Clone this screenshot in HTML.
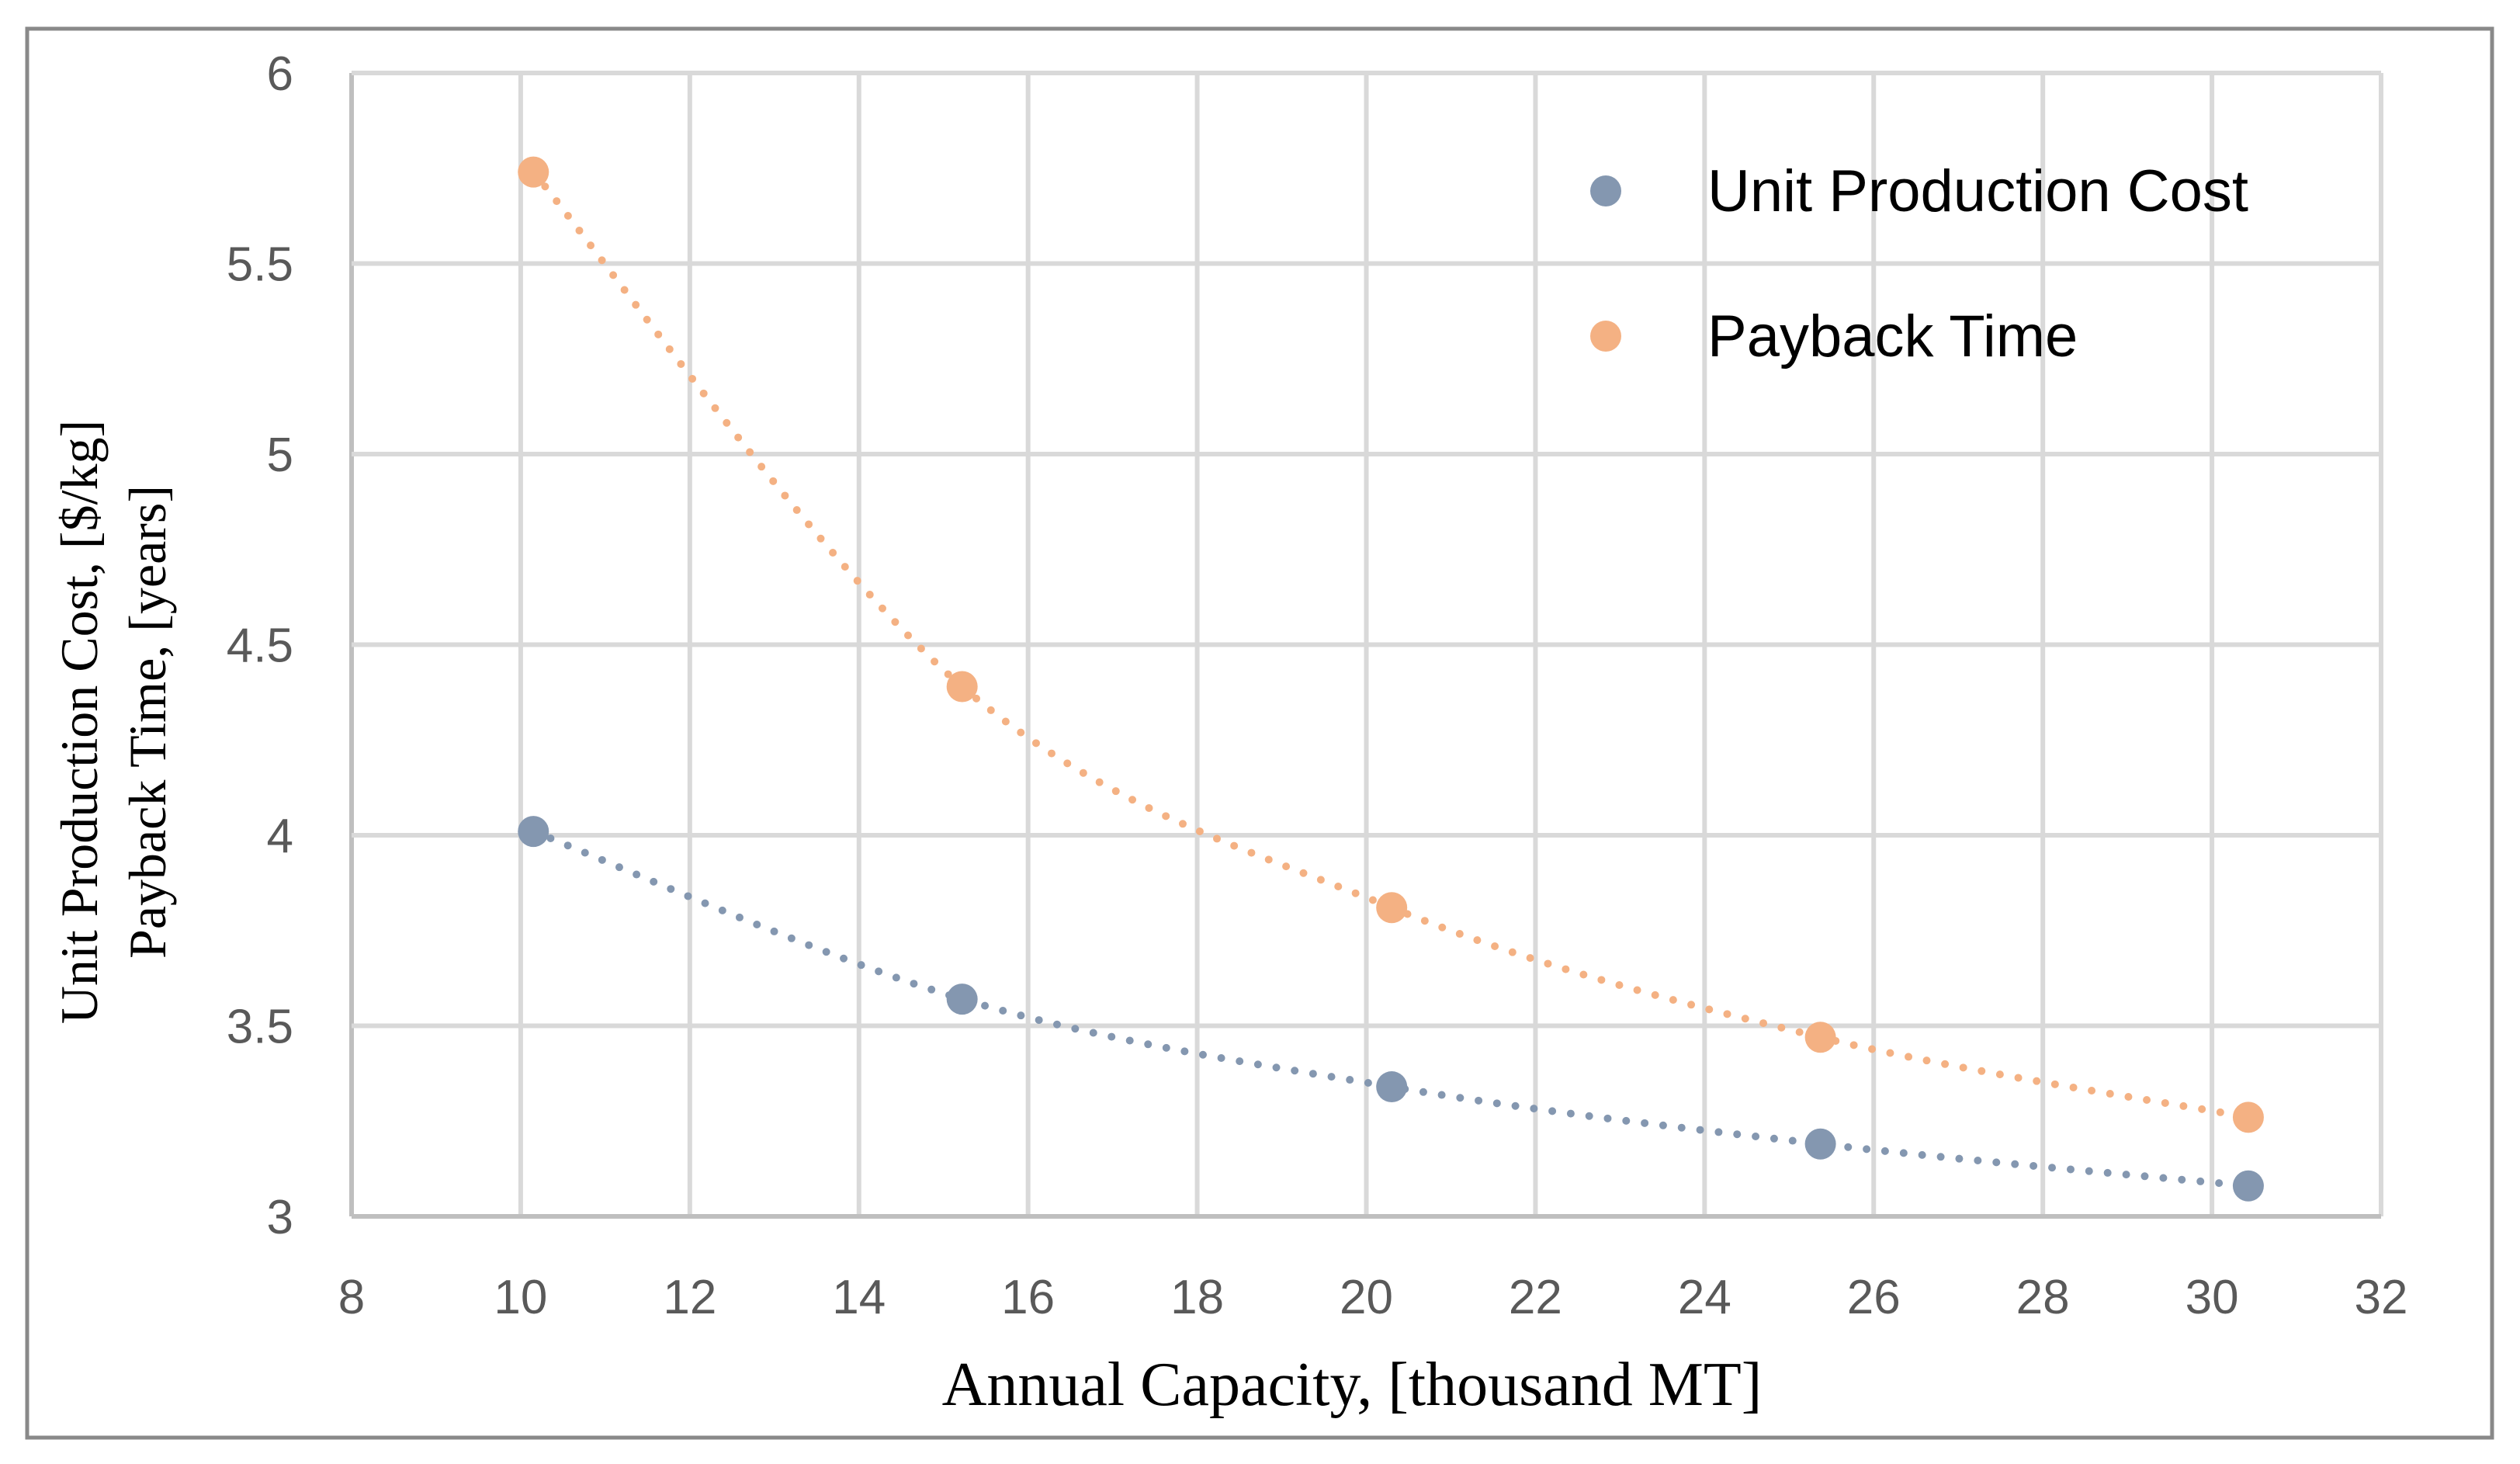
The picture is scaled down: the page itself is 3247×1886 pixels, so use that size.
<!DOCTYPE html>
<html><head><meta charset="utf-8"><style>
html,body{margin:0;padding:0;background:#fff}
svg{display:block}
</style></head><body>
<svg id="chart" width="3247" height="1886" xmlns="http://www.w3.org/2000/svg">
<rect x="35" y="37" width="3176" height="1815" fill="#fff" stroke="#898989" stroke-width="5"/>
<g id="grid"></g>
<g id="ticks"></g>
<g id="series"></g>
<text x="1742" y="1810" text-anchor="middle" font-family="Liberation Serif, serif" font-size="80" fill="#000">Annual Capacity, [thousand MT]</text>
<g transform="translate(150,930) rotate(-90)">
<text x="0" y="-25" text-anchor="middle" font-family="Liberation Serif, serif" font-size="68" fill="#000">Unit Production Cost, [$/kg]</text>
<text x="0" y="63" text-anchor="middle" font-family="Liberation Serif, serif" font-size="68" fill="#000">Payback Time, [years]</text>
</g>
<g>
<circle cx="2069" cy="246" r="20" fill="#8497b0"/>
<text x="2200" y="272" font-family="Liberation Sans, sans-serif" font-size="76" fill="#000">Unit Production Cost</text>
<circle cx="2069" cy="433" r="20" fill="#f4b183"/>
<text x="2200" y="459" font-family="Liberation Sans, sans-serif" font-size="76" fill="#000">Payback Time</text>
</g>
</svg>
<script>
const xTicks = [8,10,12,14,16,18,20,22,24,26,28,30,32];
const yTicks = [3,3.5,4,4.5,5,5.5,6];
const yTickLabels = ["3","3.5","4","4.5","5","5.5","6"];
const capacity = [10.15,15.22,20.3,25.37,30.43];
const unitCost = [4.01,3.57,3.34,3.19,3.08];
const payback = [5.74,4.39,3.81,3.47,3.26];

const L=453,R=3068,T=94,B=1567;
const X=v=>L+(v-8)/(32-8)*(R-L);
const Y=v=>B-(v-3)/(6-3)*(B-T);
const NS="http://www.w3.org/2000/svg";
function mk(tag,parent,attrs){const e=document.createElementNS(NS,tag);for(const k in attrs)e.setAttribute(k,attrs[k]);parent.appendChild(e);return e;}
const grid=document.getElementById('grid'),ticks=document.getElementById('ticks'),series=document.getElementById('series');
xTicks.forEach((t,i)=>{
  const ln=mk('line',grid,{x1:X(t),x2:X(t),y1:T,y2:B,stroke:i===0?'#bfbfbf':'#d9d9d9','stroke-width':6});
  
  
  const tx=mk('text',ticks,{x:X(t),y:1692,'text-anchor':'middle','font-family':'Liberation Sans, sans-serif','font-size':62,fill:'#595959'});
  tx.textContent=String(t);
  
  
});
yTicks.forEach((t,i)=>{
  const ln=mk('line',grid,{x1:L,x2:R,y1:Y(t),y2:Y(t),stroke:i===0?'#bfbfbf':'#d9d9d9','stroke-width':6});
  
  
  const tx=mk('text',ticks,{x:378,y:Y(t)+22,'text-anchor':'end','font-family':'Liberation Sans, sans-serif','font-size':62,fill:'#595959'});
  tx.textContent=yTickLabels[i];
  
  
});
function smoothPath(xs,ys){
  const P=xs.map((x,i)=>[X(x),Y(ys[i])]);
  let d='M'+P[0][0]+','+P[0][1];
  for(let i=0;i<P.length-1;i++){
    const p0=P[i-1]||P[i],p1=P[i],p2=P[i+1],p3=P[i+2]||P[i+1];
    const c1=[p1[0]+(p2[0]-p0[0])/6,p1[1]+(p2[1]-p0[1])/6];
    const c2=[p2[0]-(p3[0]-p1[0])/6,p2[1]-(p3[1]-p1[1])/6];
    d+='C'+c1.join(',')+' '+c2.join(',')+' '+p2.join(',');
  }
  return d;
}
function drawSeries(ys,color,name){
  const p=mk('path',series,{d:smoothPath(capacity,ys),fill:'none',stroke:color,'stroke-width':10,'stroke-linecap':'round','stroke-dasharray':'0 24'});
  
  
  capacity.forEach((x,i)=>{
    const c=mk('circle',series,{cx:X(x),cy:Y(ys[i]),r:20,fill:color});
    
    
  });
}
drawSeries(unitCost,'#8497b0','unit-cost');
drawSeries(payback,'#f4b183','payback');
</script>
</body></html>
